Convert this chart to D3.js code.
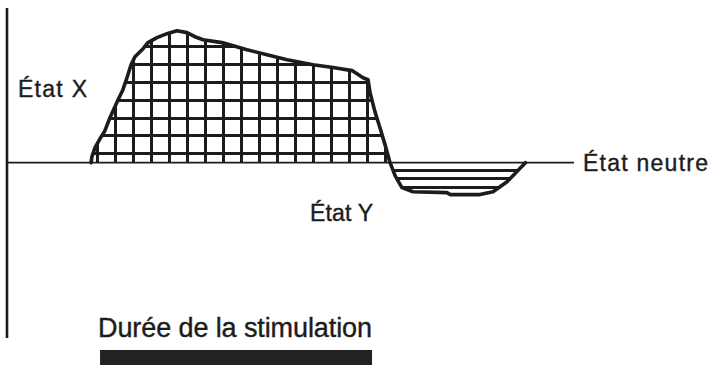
<!DOCTYPE html>
<html>
<head>
<meta charset="utf-8">
<script src="https://cdn.jsdelivr.net/npm/d3@7"></script>
<style>
  body { margin: 0; background: #fff; }
  text { font-family: "Liberation Sans", Arial, Helvetica, sans-serif; fill: #1c1c1c; stroke: #1c1c1c; stroke-width: 0.4px; }
</style>
</head>
<body>
<div id="chart"></div>
<script>
// response curve (time units, state units; 0 = neutral)
var curveTime = [4.67, 4.72, 4.89, 5.17, 5.44, 5.72, 6.17, 6.44, 6.72, 6.89, 7.11, 7.56, 7.83, 8.33, 8.89, 9.44,
  10.0, 10.44, 10.89, 11.94, 13.33, 14.44, 15.56, 17.0, 18.11, 19.17, 19.78, 20.06, 20.17, 20.44, 20.72, 21.0, 21.28,
  21.39, 21.56, 21.94, 22.56, 24.44, 24.61, 26.28, 27.0, 27.78, 28.8];
var curveState = [0, 0.34, 0.84, 1.35, 1.79, 2.52, 3.53, 4.09, 4.93, 5.49, 5.94, 6.39, 6.73, 7.01, 7.23, 7.40,
  7.29, 7.06, 6.89, 6.73, 6.33, 6.05, 5.77, 5.49, 5.33, 5.16, 4.76, 4.65, 3.92, 2.86, 1.96, 1.01, 0,
  -0.28, -0.73, -1.40, -1.63, -1.68, -1.79, -1.79, -1.63, -1.07, 0];

// hatching inside the curve
var gridTimes = d3.range(5, 22, 1);
var gridStatesUp = d3.range(0.5, 8, 1);
var gridStatesDown = [-0.42, -0.91, -1.4];

// stimulation period
var stimStart = 5.17, stimEnd = 20.28;

var labels = [
  {text: "État X", x: 18, y: 97, size: 23, len: 69},
  {text: "État Y", x: 310, y: 221, size: 23, len: 63},
  {text: "État neutre", x: 583, y: 171, size: 23, len: 125},
  {text: "Durée de la stimulation", x: 98, y: 337, size: 27, len: 274}
];

var width = 712, height = 365;
var ink = "#1c1c1c";

var svg = d3.select("#chart").append("svg")
  .attr("width", width).attr("height", height);

var x = d3.scaleLinear().domain([0, 31.5]).range([7, 574]);
var y = d3.scaleLinear().domain([-9.83, 8.67]).range([338, 8]);

var pts = curveTime.map(function (t, i) { return [t, curveState[i]]; });
var line = d3.line().x(function (d) { return x(d[0]); }).y(function (d) { return y(d[1]); });

//clip the hatching to the shape under the curve
svg.append("clipPath").attr("id", "shape")
  .append("path").attr("d", line(pts) + "Z");

var hatch = svg.append("g").attr("clip-path", "url(#shape)")
  .attr("stroke", ink).attr("stroke-width", 3)
  .attr("shape-rendering", "crispEdges");

hatch.selectAll("line.v").data(gridTimes).enter().append("line")
  .attr("x1", function (d) { return x(d); }).attr("x2", function (d) { return x(d); })
  .attr("y1", y(0)).attr("y2", y(8.5));

hatch.selectAll("line.h").data(gridStatesUp.concat(gridStatesDown)).enter().append("line")
  .attr("x1", x(4)).attr("x2", x(30))
  .attr("y1", function (d) { return y(d); }).attr("y2", function (d) { return y(d); });

//neutral line and vertical axis
svg.append("line")
  .attr("x1", x(0)).attr("x2", x(31.5)).attr("y1", y(0)).attr("y2", y(0))
  .attr("stroke", ink).attr("stroke-width", 1.8);
svg.append("line")
  .attr("x1", x(0)).attr("x2", x(0)).attr("y1", y(8.67)).attr("y2", y(-9.83))
  .attr("stroke", ink).attr("stroke-width", 2.6);

//the response curve
svg.append("path").attr("d", line(pts))
  .attr("fill", "none").attr("stroke", ink).attr("stroke-width", 3.6)
  .attr("stroke-linejoin", "round").attr("stroke-linecap", "round");

//stimulation bar
svg.append("rect")
  .attr("x", x(stimStart)).attr("width", x(stimEnd) - x(stimStart))
  .attr("y", 350).attr("height", 15)
  .attr("fill", "#222");

svg.selectAll("text.lbl").data(labels).enter().append("text")
  .attr("x", function (d) { return d.x; }).attr("y", function (d) { return d.y; })
  .attr("font-size", function (d) { return d.size; })
  .attr("textLength", function (d) { return d.len; })
  .attr("lengthAdjust", "spacing")
  .text(function (d) { return d.text; });
</script>
</body>
</html>
